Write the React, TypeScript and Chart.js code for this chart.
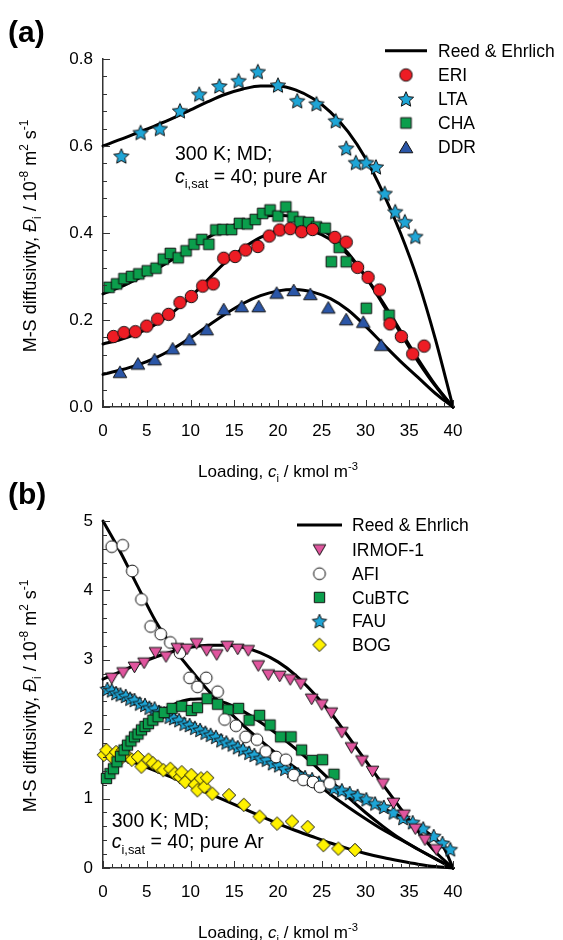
import React, { useEffect, useRef } from 'react';
import { Chart, registerables } from 'chart.js';
Chart.register(...registerables);

const FONT = "'Liberation Sans', Arial, Helvetica, sans-serif";
type Pt = [number, number];

// ---------------- Panel (a) data ----------------
const xTickValues = [0, 5, 10, 15, 20, 25, 30, 35, 40];
const yTickValuesA = [0, 0.2, 0.4, 0.6, 0.8];

const ERI: Pt[] = [[1.2,0.162],[2.4,0.171],[3.7,0.173],[5.0,0.186],[6.25,0.202],[7.5,0.213],[8.8,0.24],[10.1,0.254],[11.4,0.278],[12.6,0.283],[13.8,0.342],[15.1,0.346],[16.3,0.361],[17.7,0.369],[19.0,0.393],[20.2,0.407],[21.4,0.41],[22.7,0.403],[23.95,0.408],[26.5,0.39],[27.8,0.379],[29.1,0.321],[30.3,0.298],[31.6,0.269],[32.8,0.191],[34.1,0.162],[35.4,0.122],[36.7,0.14]];
const LTA: Pt[] = [[2.1,0.577],[4.3,0.631],[6.5,0.64],[8.8,0.681],[11.0,0.719],[13.3,0.738],[15.5,0.75],[17.7,0.771],[20.0,0.74],[22.2,0.704],[24.4,0.697],[26.6,0.658],[27.8,0.595],[28.9,0.562],[30.1,0.562],[31.2,0.552],[32.2,0.491],[33.4,0.449],[34.5,0.426],[35.7,0.392]];
const CHA: Pt[] = [[0.7,0.275],[1.56,0.283],[2.4,0.295],[3.27,0.3],[4.1,0.306],[5.06,0.313],[6.06,0.319],[6.9,0.34],[7.7,0.353],[8.6,0.343],[9.5,0.359],[10.4,0.374],[11.3,0.385],[12.1,0.374],[12.9,0.407],[13.7,0.408],[14.7,0.408],[15.6,0.422],[16.5,0.421],[17.4,0.431],[18.25,0.445],[19.1,0.453],[20.0,0.439],[20.9,0.46],[21.7,0.437],[22.5,0.426],[23.5,0.424],[24.4,0.414],[25.4,0.411],[26.1,0.334],[27.0,0.367],[27.8,0.334],[30.1,0.227],[32.7,0.211]];
const DDR: Pt[] = [[1.94,0.081],[4.0,0.1],[5.9,0.11],[7.96,0.135],[9.87,0.156],[11.85,0.179],[13.8,0.225],[15.85,0.232],[17.8,0.232],[19.85,0.263],[21.8,0.269],[23.7,0.26],[25.75,0.229],[27.8,0.202],[29.75,0.196],[31.8,0.143]];

const LTA_RE: Pt[] = [[0,0.6],[2,0.615],[4,0.631],[6,0.647],[8,0.664],[10,0.683],[12,0.702],[14,0.719],[16,0.731],[18,0.738],[20,0.738],[22,0.729],[24,0.709],[26,0.678],[28,0.633],[30,0.572],[32,0.493],[34,0.4],[36,0.29],[38,0.155],[40,0]];
const ERI_RE: Pt[] = [[0,0.145],[2,0.155],[4,0.17],[6,0.19],[8,0.218],[10,0.253],[12,0.293],[14,0.333],[16,0.365],[18,0.39],[20,0.405],[22,0.41],[24,0.404],[26,0.385],[28,0.35],[30,0.3],[32,0.24],[34,0.175],[36,0.11],[38,0.05],[40,0]];
const CHA_RE: Pt[] = [[0,0.26],[2,0.276],[4,0.295],[6,0.316],[8,0.34],[10,0.365],[12,0.39],[14,0.41],[16,0.426],[18,0.437],[20,0.441],[22,0.436],[24,0.421],[26,0.394],[28,0.354],[30,0.3],[32,0.236],[34,0.17],[36,0.105],[38,0.048],[40,0]];
const DDR_RE: Pt[] = [[0,0.075],[2,0.085],[4,0.097],[6,0.113],[8,0.134],[10,0.159],[12,0.187],[14,0.214],[16,0.238],[18,0.256],[20,0.267],[22,0.27],[24,0.264],[26,0.249],[28,0.223],[30,0.186],[32,0.145],[34,0.105],[36,0.068],[38,0.031],[40,0]];

// ---------------- Panel (b) data ----------------
const yTickValuesB = [0, 1, 2, 3, 4, 5];

const IRMOF1: Pt[] = [[1.0,2.73],[2.3,2.81],[3.6,2.89],[4.7,2.95],[6.0,3.1],[7.2,3.04],[8.5,3.16],[9.6,3.15],[10.7,3.23],[11.85,3.13],[13.0,3.07],[14.2,3.19],[15.4,3.15],[16.6,3.13],[17.75,2.91],[18.9,2.78],[20.2,2.76],[21.4,2.71],[22.6,2.65],[23.85,2.43],[25.0,2.35],[26.1,2.23],[27.3,1.95],[28.4,1.73],[29.6,1.54],[30.8,1.39],[32.0,1.21],[33.2,0.93],[34.4,0.76],[35.7,0.56],[36.8,0.4],[38.1,0.26]];
const AFI: Pt[] = [[1.0,4.63],[2.25,4.65],[3.35,4.28],[4.4,3.87],[5.45,3.48],[6.6,3.37],[7.7,3.25],[8.8,3.1],[9.9,2.74],[10.8,2.61],[11.8,2.74],[13.1,2.54],[13.9,2.14],[15.2,2.05],[16.3,1.89],[17.6,1.85],[18.6,1.68],[19.8,1.6],[20.9,1.56],[21.8,1.34],[22.9,1.27],[24.0,1.24],[24.8,1.17],[25.9,1.22]];
const CuBTC: Pt[] = [[0.4,1.29],[0.8,1.36],[1.2,1.43],[1.6,1.53],[2.0,1.61],[2.4,1.7],[2.8,1.77],[3.2,1.83],[3.6,1.89],[4.0,1.93],[4.4,1.99],[4.8,2.04],[5.2,2.08],[5.7,2.13],[6.3,2.18],[7.0,2.24],[7.9,2.3],[9.0,2.33],[10.1,2.27],[10.8,2.31],[11.9,2.44],[13.1,2.36],[14.3,2.28],[15.5,2.3],[16.7,2.13],[17.9,2.2],[19.1,2.06],[20.3,1.89],[21.5,1.89],[22.7,1.7],[23.9,1.55],[25.1,1.56],[26.4,1.35]];
const FAU: Pt[] = [[0.5,2.58],[1.0,2.56],[1.5,2.52],[2.0,2.5],[2.6,2.48],[3.1,2.44],[3.6,2.42],[4.2,2.37],[4.8,2.35],[5.3,2.31],[5.9,2.3],[6.4,2.25],[7.0,2.23],[7.6,2.18],[8.1,2.16],[8.7,2.13],[9.3,2.08],[9.9,2.06],[10.5,2.02],[11.1,1.99],[11.7,1.95],[12.3,1.92],[12.9,1.89],[13.5,1.84],[14.1,1.81],[14.8,1.78],[15.4,1.74],[16.0,1.71],[16.7,1.66],[17.3,1.63],[18.0,1.58],[18.7,1.56],[19.4,1.51],[20.1,1.48],[20.8,1.43],[21.6,1.4],[22.3,1.35],[23.1,1.31],[23.9,1.28],[24.7,1.23],[25.5,1.2],[26.4,1.15],[27.3,1.12],[28.2,1.08],[29.1,1.04],[30.1,0.99],[31.1,0.93],[32.1,0.88],[33.2,0.8],[34.3,0.72],[35.4,0.66],[36.6,0.57],[37.8,0.46],[38.8,0.36],[39.7,0.27]];
const BOG: Pt[] = [[0.1,1.63],[0.4,1.7],[1.0,1.6],[1.5,1.67],[1.9,1.56],[2.3,1.7],[2.9,1.6],[3.3,1.56],[4.0,1.6],[4.4,1.46],[5.2,1.56],[5.7,1.51],[6.3,1.46],[6.9,1.41],[7.7,1.43],[8.2,1.36],[8.8,1.31],[9.0,1.38],[9.4,1.24],[10.1,1.34],[10.5,1.2],[10.8,1.12],[11.2,1.29],[11.6,1.17],[11.9,1.3],[12.5,1.07],[14.4,1.05],[16.1,0.91],[17.9,0.74],[19.9,0.64],[21.6,0.67],[23.4,0.59],[25.2,0.33],[26.9,0.28],[28.8,0.26]];

const IRMOF1_RE: Pt[] = [[0,2.72],[2,2.83],[4,2.94],[6,3.04],[8,3.12],[10,3.18],[12,3.21],[14,3.21],[16,3.18],[18,3.1],[20,2.97],[22,2.78],[24,2.53],[26,2.24],[28,1.9],[30,1.55],[32,1.2],[34,0.86],[36,0.53],[38,0.23],[40,0]];
const AFI_RE: Pt[] = [[0,5.0],[2,4.55],[4,4.05],[6,3.56],[8,3.18],[10,2.86],[12,2.56],[14,2.3],[16,2.06],[18,1.84],[20,1.63],[22,1.44],[24,1.25],[26,1.06],[28,0.88],[30,0.71],[32,0.55],[34,0.41],[36,0.27],[38,0.135],[40,0]];
const CuBTC_RE: Pt[] = [[0,1.28],[2,1.62],[4,1.95],[6,2.2],[8,2.35],[10,2.43],[12,2.44],[14,2.38],[16,2.26],[18,2.1],[20,1.92],[22,1.72],[24,1.5],[26,1.26],[28,1.02],[30,0.8],[32,0.6],[34,0.42],[36,0.27],[38,0.13],[40,0]];
const FAU_RE: Pt[] = [[0,2.6],[4,2.39],[8,2.17],[12,1.94],[16,1.71],[20,1.48],[24,1.26],[28,1.06],[30,0.96],[32,0.86],[34,0.74],[36,0.6],[38,0.42],[39,0.28],[40,0]];
const BOG_RE: Pt[] = [[0,1.68],[2,1.6],[4,1.5],[6,1.4],[8,1.3],[10,1.19],[12,1.08],[14,0.97],[16,0.86],[18,0.75],[20,0.64],[22,0.54],[24,0.45],[26,0.36],[28,0.28],[30,0.21],[32,0.15],[34,0.1],[36,0.055],[38,0.02],[40,0]];

// ---------------- markers ----------------
type Shape = 'circle' | 'square' | 'triUp' | 'triDown' | 'diamond' | 'star';
function makeMarker(shape: Shape, r: number, fill: string): HTMLCanvasElement {
  const S = Math.ceil(2 * r + 4);
  const c = document.createElement('canvas');
  c.width = S; c.height = S;
  const g = c.getContext('2d')!;
  const m = S / 2;
  g.beginPath();
  if (shape === 'circle') {
    g.arc(m, m, r, 0, Math.PI * 2);
  } else if (shape === 'square') {
    g.rect(m - r, m - r, 2 * r, 2 * r);
  } else if (shape === 'triUp' || shape === 'triDown') {
    const h = r * 1.7;
    const s = shape === 'triUp' ? 1 : -1;
    g.moveTo(m, m - s * h / 2);
    g.lineTo(m + r, m + s * h / 2);
    g.lineTo(m - r, m + s * h / 2);
  } else if (shape === 'diamond') {
    g.moveTo(m, m - r); g.lineTo(m + r, m); g.lineTo(m, m + r); g.lineTo(m - r, m);
  } else if (shape === 'star') {
    const inner = r * 0.47;
    for (let i = 0; i < 10; i++) {
      const rad = i % 2 === 0 ? r : inner;
      const a = -Math.PI / 2 + (i * Math.PI) / 5;
      const px = m + rad * Math.cos(a), py = m + 0.7 + rad * Math.sin(a);
      if (i === 0) g.moveTo(px, py); else g.lineTo(px, py);
    }
  }
  g.closePath();
  g.fillStyle = fill; g.fill();
  g.lineWidth = 1; g.strokeStyle = '#111'; g.stroke();
  return c;
}

type Seg = { t: string; it?: boolean; sub?: boolean; sup?: boolean };
function drawRich(ctx: CanvasRenderingContext2D, segs: Seg[], x: number, y: number, size: number, align: 'left' | 'center') {
  const small = size * 0.66;
  const fontOf = (s: Seg) => `${s.it ? 'italic ' : ''}${s.sub || s.sup ? small : size}px ${FONT}`;
  const widths = segs.map((s) => { ctx.font = fontOf(s); return ctx.measureText(s.t).width; });
  const total = widths.reduce((a, b) => a + b, 0);
  let cx = align === 'center' ? x - total / 2 : x;
  ctx.textAlign = 'left';
  ctx.textBaseline = 'alphabetic';
  segs.forEach((s, i) => {
    ctx.font = fontOf(s);
    const dy = s.sub ? size * 0.28 : s.sup ? -size * 0.42 : 0;
    ctx.fillText(s.t, cx, y + dy);
    cx += widths[i];
  });
}

interface Series { label: string; data: Pt[]; img: HTMLCanvasElement }
interface Spec {
  H: number; areaTop: number; areaBottom: number;
  yMax: number; yMinorN: number; yDec: number;
  series: Series[]; curves: Pt[][];
  label: string; labelBase: number;
  xTitleBase: number; yTitleCenter: number;
  ann: { x: number; b1: number; b2: number };
  leg: { lx0: number; lx1: number; ly: number; mx: number; tx: number; y0: number; dy: number };
  xTickPad: number;
}

const xTitle: Seg[] = [{ t: 'Loading, ' }, { t: 'c', it: true }, { t: 'i', sub: true }, { t: ' / kmol m' }, { t: '-3', sup: true }];
const yTitle: Seg[] = [{ t: 'M-S diffusivity, ' }, { t: 'Đ', it: true }, { t: 'i', sub: true }, { t: ' / 10' }, { t: '-8', sup: true }, { t: ' m' }, { t: '2', sup: true }, { t: ' s' }, { t: '-1', sup: true }];
const ann2: Seg[] = [{ t: 'c', it: true }, { t: 'i,sat', sub: true }, { t: ' = 40; pure Ar' }];

function buildConfig(spec: Spec): any {
  const datasets: any[] = [];
  spec.series.forEach((s, i) => datasets.push({
    label: s.label,
    data: s.data.map(([x, y]) => ({ x, y })),
    pointStyle: s.img, pointRadius: 6, pointHoverRadius: 6,
    showLine: false, order: i, clip: false,
  }));
  spec.curves.forEach((c) => datasets.push({
    label: 'Reed & Ehrlich',
    data: c.map(([x, y]) => ({ x, y })),
    showLine: true, borderColor: '#000', borderWidth: 3, pointRadius: 0,
    cubicInterpolationMode: 'monotone', fill: false, order: 10, clip: false,
    borderJoinStyle: 'round', borderCapStyle: 'round',
  }));

  const decor = {
    id: 'decor',
    afterDraw(chart: any) {
      const { ctx, chartArea } = chart;
      const xs = chart.scales.x, ys = chart.scales.y;
      ctx.save();
      ctx.strokeStyle = '#333'; ctx.lineWidth = 1;
      for (let i = 0; i <= 40; i++) {
        const px = Math.round(xs.getPixelForValue(i)) + 0.5;
        const len = i % 5 === 0 ? 7 : 4;
        ctx.beginPath(); ctx.moveTo(px, chartArea.bottom); ctx.lineTo(px, chartArea.bottom - len); ctx.stroke();
      }
      for (let i = 0; i <= spec.yMinorN; i++) {
        const v = (spec.yMax * i) / spec.yMinorN;
        const py = Math.round(ys.getPixelForValue(v)) + 0.5;
        const len = i % 5 === 0 ? 7 : 4;
        ctx.beginPath(); ctx.moveTo(chartArea.left, py); ctx.lineTo(chartArea.left + len, py); ctx.stroke();
      }
      ctx.fillStyle = '#000';
      ctx.font = `bold 30px ${FONT}`; ctx.textAlign = 'left'; ctx.textBaseline = 'alphabetic';
      ctx.fillText(spec.label, 8, spec.labelBase);
      const cx = (chartArea.left + chartArea.right) / 2;
      drawRich(ctx, xTitle, cx, spec.xTitleBase, 17, 'center');
      ctx.save();
      ctx.translate(36, spec.yTitleCenter);
      ctx.rotate(-Math.PI / 2);
      drawRich(ctx, yTitle, 0, 0, 18, 'center');
      ctx.restore();
      ctx.font = `19.5px ${FONT}`; ctx.textAlign = 'left';
      ctx.fillText('300 K; MD;', spec.ann.x, spec.ann.b1);
      drawRich(ctx, ann2, spec.ann.x, spec.ann.b2, 19.5, 'left');
      const L = spec.leg;
      ctx.strokeStyle = '#000'; ctx.lineWidth = 3;
      ctx.beginPath(); ctx.moveTo(L.lx0, L.ly); ctx.lineTo(L.lx1, L.ly); ctx.stroke();
      ctx.font = `17.5px ${FONT}`; ctx.textAlign = 'left'; ctx.textBaseline = 'alphabetic';
      ctx.fillText('Reed & Ehrlich', L.tx, L.ly + 6.3);
      spec.series.forEach((s, i) => {
        const y = L.y0 + i * L.dy;
        ctx.drawImage(s.img, L.mx - s.img.width / 2, y - s.img.height / 2);
        ctx.fillText(s.label, L.tx, y + 6.3);
      });
      ctx.restore();
    },
  };

  const tickFont = { family: FONT, size: 17 };
  return {
    type: 'scatter',
    data: { datasets },
    options: {
      responsive: false, animation: false, devicePixelRatio: 1,
      events: [],
      layout: { padding: { top: spec.areaTop, right: 110, bottom: 0, left: 0 } },
      plugins: { legend: { display: false }, tooltip: { enabled: false }, title: { display: false } },
      scales: {
        x: {
          type: 'linear', min: 0, max: 40,
          afterBuildTicks: (s: any) => { s.ticks = xTickValues.map((v) => ({ value: v })); },
          ticks: { font: tickFont, color: '#000', padding: spec.xTickPad, maxRotation: 0, autoSkip: false },
          grid: { display: false, drawTicks: false },
          border: { display: true, color: '#333', width: 1.5 },
          afterFit: (s: any) => { s.height = spec.H - spec.areaBottom; },
        },
        y: {
          type: 'linear', min: 0, max: spec.yMax,
          afterBuildTicks: (s: any) => {
            const vals = spec.yMax === 5 ? yTickValuesB : yTickValuesA;
            s.ticks = vals.map((v) => ({ value: v }));
          },
          ticks: { font: tickFont, color: '#000', padding: 10, callback: (v: any) => Number(v).toFixed(spec.yDec) },
          grid: { display: false, drawTicks: false },
          border: { display: true, color: '#333', width: 1.5 },
          afterFit: (s: any) => { s.width = 103; },
        },
      },
    },
    plugins: [decor],
  };
}

function Panel({ make, top, H }: { make: () => Spec; top: number; H: number }) {
  const ref = useRef<HTMLCanvasElement>(null);
  useEffect(() => {
    const chart = new Chart(ref.current!, buildConfig(make()));
    return () => chart.destroy();
  }, []);
  return <canvas ref={ref} width={563} height={H} style={{ position: 'absolute', left: 0, top, width: 563, height: H }} />;
}

const makeA = (): Spec => ({
  H: 490, areaTop: 59, areaBottom: 407,
  yMax: 0.8, yMinorN: 20, yDec: 1,
  series: [
    { label: 'ERI', data: ERI, img: makeMarker('circle', 6.2, '#ed1c24') },
    { label: 'LTA', data: LTA, img: makeMarker('star', 8, '#1ea5d6') },
    { label: 'CHA', data: CHA, img: makeMarker('square', 5.3, '#0b9e4c') },
    { label: 'DDR', data: DDR, img: makeMarker('triUp', 6.8, '#2b56a7') },
  ],
  curves: [LTA_RE, ERI_RE, CHA_RE, DDR_RE],
  label: '(a)', labelBase: 42,
  xTitleBase: 477, yTitleCenter: 236,
  ann: { x: 175, b1: 159.5, b2: 183 },
  leg: { lx0: 385, lx1: 427, ly: 50.7, mx: 406, tx: 438, y0: 75, dy: 24 },
  xTickPad: 14,
});

const makeB = (): Spec => ({
  H: 470, areaTop: 51, areaBottom: 398,
  yMax: 5, yMinorN: 25, yDec: 0,
  series: [
    { label: 'IRMOF-1', data: IRMOF1, img: makeMarker('triDown', 6.3, '#e0559e') },
    { label: 'AFI', data: AFI, img: makeMarker('circle', 5.9, '#ffffff') },
    { label: 'CuBTC', data: CuBTC, img: makeMarker('square', 5.2, '#0b9e4c') },
    { label: 'FAU', data: FAU, img: makeMarker('star', 7.6, '#1ea5d6') },
    { label: 'BOG', data: BOG, img: makeMarker('diamond', 6.7, '#fff200') },
  ],
  curves: [IRMOF1_RE, AFI_RE, CuBTC_RE, FAU_RE, BOG_RE],
  label: '(b)', labelBase: 34,
  xTitleBase: 468, yTitleCenter: 226,
  ann: { x: 111.7, b1: 356.7, b2: 378.3 },
  leg: { lx0: 297, lx1: 342, ly: 55, mx: 319.5, tx: 352, y0: 80, dy: 23.7 },
  xTickPad: 14,
});

export default function App() {
  return (
    <div style={{ position: 'absolute', left: 0, top: 0, width: 563, height: 940, background: '#fff' }}>
      <Panel make={makeA} top={0} H={490} />
      <Panel make={makeB} top={470} H={470} />
    </div>
  );
}
